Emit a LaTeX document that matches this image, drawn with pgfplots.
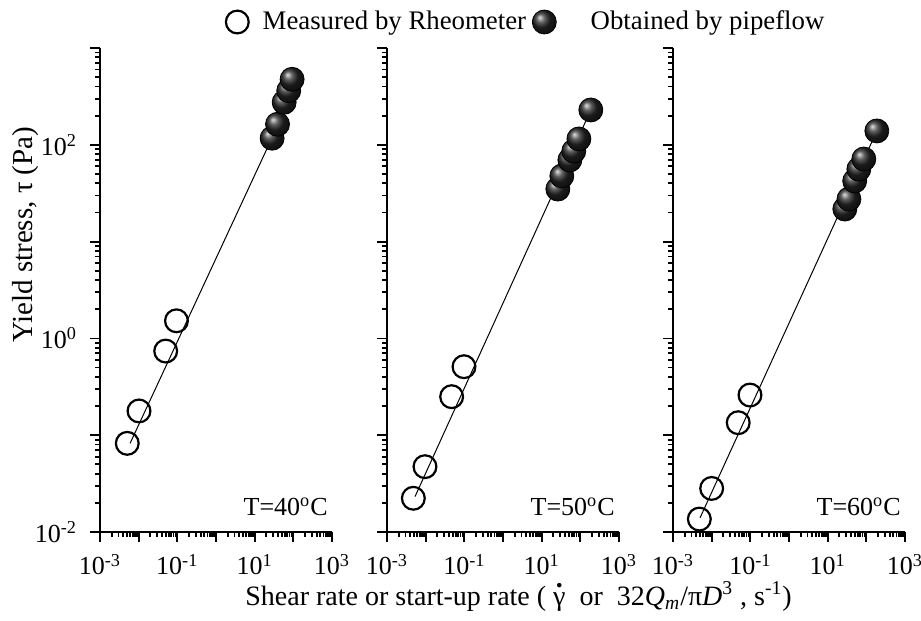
\documentclass[border=0pt]{standalone}
\usepackage{pgfplots}
\pgfplotsset{compat=1.18}
\usepackage{fontspec}
\setmainfont{Liberation Serif}
\newcommand{\dotgamma}{\ooalign{γ\cr\hidewidth\raisebox{0.62em}{\textbf{.}}\hidewidth\cr}}
\pgfplotsset{
 every axis/.append style={
  scale only axis, width=116bp, height=242bp,
  xmin=1e-3, xmax=1e3, ymin=1e-2, ymax=1e3,
  axis x line=bottom, axis y line=left,
  axis line style={-, line width=1.2bp},
  tick align=outside,
  major tick length=5bp, minor tick length=2.5bp,
  tick style={black, line width=0.9bp},
  xtick={1e-3,1e-2,1e-1,1,1e1,1e2,1e3},
  xticklabels={10\textsuperscript{-3},,10\textsuperscript{-1},,10\textsuperscript{1},,10\textsuperscript{3}},
  ytick={1e-2,1e-1,1,1e1,1e2,1e3},
  ticklabel style={font=\fontsize{13bp}{15bp}\selectfont},
  xticklabel style={yshift=-2.5bp},
  yticklabel style={xshift=-3bp},
  clip=false,
 },
}
\tikzset{tlab/.style={anchor=base east, font=\fontsize{13bp}{15bp}\selectfont, inner sep=0pt}}
\begin{document}
\begin{tikzpicture}
\path[use as bounding box] (-50bp,-44.5bp) rectangle (410.5bp,266bp);
% Panel 1
\begin{loglogaxis}[at={(0bp,0bp)}, anchor=south west,
  yticklabels={10\textsuperscript{-2},,10\textsuperscript{0},,10\textsuperscript{2},},
  legend style={draw=none, fill=none, at={(0.541,1.0537)}, anchor=west, inner sep=0pt,
    font=\fontsize{13.4bp}{15bp}\selectfont,
    /tikz/every odd column/.append style={column sep=5bp}},
  legend cell align=left]
\addplot[only marks, mark=o, mark size=5.7bp, mark options={line width=1.1bp}, black] coordinates {(0.00507,0.0824)(0.0102,0.178)(0.05,0.74)(0.095,1.52)};
\addlegendentry{Measured by Rheometer}
\addplot[black, line width=0.5bp, no marks, forget plot] coordinates {(0.006,0.0824)(79.4,288)};
\addplot[only marks, mark=ball, mark size=6bp, ball color=black!85!white, forget plot] coordinates {(28.3,117)(39,163)(58,275)(76,362)(93,475)};
\node[tlab] at (axis description cs:0.983,0.035) {T=40\textsuperscript{o}C};
\node[rotate=90, font=\fontsize{14.5bp}{16bp}\selectfont] at (axis description cs:-0.323,0.614) {Yield stress, τ (Pa)};
\end{loglogaxis}
% Panel 2
\begin{loglogaxis}[at={(143.5bp,0bp)}, anchor=south west, yticklabels={},
  legend style={draw=none, fill=none, at={(0.623,1.0537)}, anchor=west, inner sep=0pt,
    font=\fontsize{13.4bp}{15bp}\selectfont,
    /tikz/every odd column/.append style={column sep=15bp}},
  legend cell align=left]
\addplot[only marks, mark=o, mark size=5.7bp, mark options={line width=1.1bp}, black, forget plot] coordinates {(0.0048,0.0223)(0.0096,0.0473)(0.047,0.25)(0.098,0.51)};
\addplot[black, line width=0.5bp, no marks, forget plot] coordinates {(0.0053,0.0232)(187,229)};
\addplot[only marks, mark=ball, mark size=6bp, ball color=black!85!white] coordinates {(26.2,34.9)(33.2,47.6)(53.6,69.7)(67.7,86)(91.8,115)(187,229)};
\addlegendentry{Obtained by pipeflow}
\node[tlab] at (axis description cs:0.983,0.035) {T=50\textsuperscript{o}C};
\node[anchor=base, font=\fontsize{14bp}{16bp}\selectfont] at (axis description cs:0.567,-0.151)
 {Shear rate or start-up rate ( \dotgamma\ \ or \ 32\textit{Q}\textsubscript{\textit{m}}/π\textit{D}\textsuperscript{3} , s\textsuperscript{-1})};
\end{loglogaxis}
% Panel 3
\begin{loglogaxis}[at={(286.5bp,0bp)}, anchor=south west, yticklabels={}]
\addplot[only marks, mark=o, mark size=5.7bp, mark options={line width=1.1bp}, black] coordinates {(0.0048,0.0136)(0.01,0.0282)(0.0486,0.1346)(0.098,0.26)};
\addplot[black, line width=0.5bp, no marks] coordinates {(0.005,0.014)(187,139)};
\addplot[only marks, mark=ball, mark size=6bp, ball color=black!85!white] coordinates {(27.8,21.7)(35.5,27.5)(50,42.3)(64,56)(86,71.3)(187,139)};
\node[tlab] at (axis description cs:0.983,0.035) {T=60\textsuperscript{o}C};
\end{loglogaxis}
\end{tikzpicture}
\end{document}
